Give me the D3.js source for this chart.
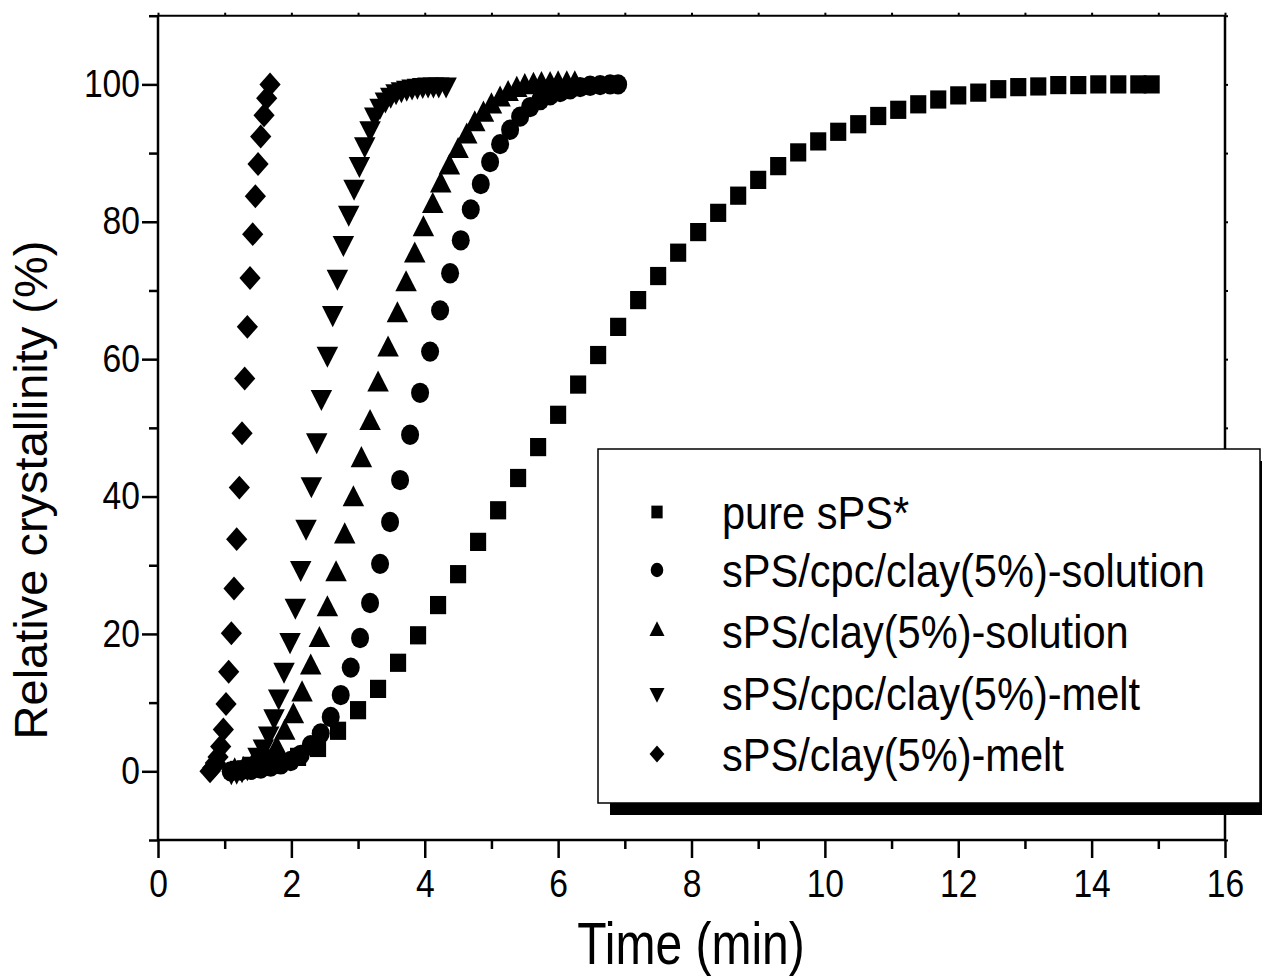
<!DOCTYPE html>
<html><head><meta charset="utf-8">
<script src="https://cdn.jsdelivr.net/npm/d3@7"></script>
<style>
body{margin:0;background:#fff}
svg text{font-family:"Liberation Sans",Arial,sans-serif;fill:#000}
</style>
</head><body>
<svg id="chart" width="1262" height="980"></svg>
<script>
// ---- data ----
const xMajorTicks = [0,2,4,6,8,10,12,14,16];
const xMinorTicks = [1,3,5,7,9,11,13,15];
const yMajorTicks = [0,20,40,60,80,100];
const yMinorTicks = [-10,10,30,50,70,90,110];

const seriesNames = ["pure sPS*","sPS/cpc/clay(5%)-solution","sPS/clay(5%)-solution","sPS/cpc/clay(5%)-melt","sPS/clay(5%)-melt"];

const tPure = [1.2,1.5,1.8,2.1,2.4,2.7,3.0,3.3,3.6,3.9,4.2,4.5,4.8,5.1,5.4,5.7,6.0,6.3,6.6,6.9,7.2,7.5,7.8,8.1,8.4,8.7,9.0,9.3,9.6,9.9,10.2,10.5,10.8,11.1,11.4,11.7,12.0,12.3,12.6,12.9,13.2,13.5,13.8,14.1,14.4,14.7,14.9];
const vPure = [0.2,0.6,1.2,2.1,3.4,5.9,8.9,12.0,15.8,19.8,24.2,28.7,33.4,38.0,42.7,47.2,51.9,56.3,60.6,64.7,68.6,72.1,75.5,78.5,81.3,83.8,86.1,88.1,90.1,91.7,93.1,94.2,95.4,96.3,97.1,97.8,98.4,98.8,99.3,99.6,99.7,99.9,99.9,100,100,100,100];

const tCpcSol = [1.09,1.24,1.39,1.54,1.69,1.84,1.99,2.14,2.29,2.44,2.59,2.74,2.89,3.03,3.18,3.33,3.48,3.63,3.78,3.93,4.08,4.23,4.38,4.54,4.69,4.84,4.98,5.13,5.28,5.43,5.58,5.73,5.88,6.03,6.18,6.33,6.48,6.63,6.78,6.90];
const vCpcSol = [0,0.1,0.2,0.4,0.7,1.0,1.5,2.4,3.8,5.5,7.9,11.1,15.1,19.4,24.5,30.2,36.3,42.4,49.0,55.1,61.1,67.1,72.5,77.3,81.8,85.5,88.7,91.3,93.4,95.3,96.7,97.7,98.4,98.9,99.3,99.6,99.8,99.9,100,100];

const tClaySol = [1.15,1.28,1.40,1.53,1.65,1.78,1.90,2.03,2.16,2.29,2.42,2.54,2.67,2.80,2.93,3.05,3.18,3.30,3.45,3.59,3.72,3.85,3.98,4.12,4.24,4.37,4.50,4.63,4.75,4.88,5.00,5.13,5.25,5.38,5.50,5.63,5.75,5.88,6.00,6.13,6.25];
const vClaySol = [0,0.2,0.4,0.8,1.6,3.2,5.6,8.0,11.2,15.1,19.1,23.6,28.7,34.2,39.6,45.3,50.7,56.3,61.4,66.4,70.9,75.1,78.9,82.3,85.3,87.9,90.3,92.4,94.2,95.6,96.8,97.8,98.6,99.2,99.6,99.8,99.9,99.9,100,100,100];

const tCpcMelt = [1.10,1.18,1.26,1.34,1.42,1.50,1.58,1.66,1.74,1.81,1.89,1.98,2.06,2.14,2.22,2.30,2.38,2.45,2.54,2.62,2.69,2.78,2.86,2.94,3.02,3.10,3.18,3.25,3.33,3.41,3.49,3.57,3.65,3.73,3.81,3.89,3.97,4.05,4.13,4.21,4.32];
const vCpcMelt = [0,0.1,0.3,0.6,1.1,2.4,3.6,5.5,8.0,10.9,14.8,19.1,24.1,29.6,35.6,41.8,48.2,54.5,60.8,66.7,72.0,76.9,81.3,85.1,88.4,91.3,93.6,95.6,96.9,97.8,98.5,99.0,99.3,99.5,99.7,99.8,99.9,100,100,100,100];

const tClayMelt = [0.78,0.82,0.86,0.90,0.94,0.98,1.02,1.06,1.10,1.14,1.18,1.22,1.26,1.30,1.34,1.38,1.42,1.46,1.50,1.54,1.59,1.63,1.68];
const vClayMelt = [0,0.5,1.2,2.1,3.6,6.1,9.8,14.5,20.1,26.6,33.8,41.3,49.2,57.2,64.7,71.8,78.2,83.7,88.4,92.4,95.5,98.0,100];

// ---- build ----
const series = [
  {name: seriesNames[0], t: tPure,    v: vPure,    shape: "square"},
  {name: seriesNames[1], t: tCpcSol,  v: vCpcSol,  shape: "circle"},
  {name: seriesNames[2], t: tClaySol, v: vClaySol, shape: "up"},
  {name: seriesNames[3], t: tCpcMelt, v: vCpcMelt, shape: "down"},
  {name: seriesNames[4], t: tClayMelt,v: vClayMelt,shape: "diamond"}
];

const svg = d3.select("#chart");
const X0 = 158, X1 = 1225, Y0 = 840, Y1 = 15.7;
const x = d3.scaleLinear().domain([0,16]).range([X0,X1]);
const y = d3.scaleLinear().domain([-10,110]).range([Y0,Y1]);
const SX = 0.885;   // horizontal squeeze of the original picture
const SY = 1 / SX;  // marker vertical stretch

function symbolPath(shape, k) {
  k = k || 1;
  switch (shape) {
    case "square":  return d3.symbol(d3.symbolSquare, 260*k*k)();
    case "circle":  return d3.symbol(d3.symbolCircle, 255*k*k)();
    case "up":      return d3.symbol(d3.symbolTriangle, 200*k*k)();
    case "down":    return d3.symbol(d3.symbolTriangle, 200*k*k)();
    case "diamond": return d3.symbol(d3.symbolSquare, 225*k*k)();
  }
}
function symbolTransform(shape, px, py) {
  let tr = `translate(${px},${py}) scale(1,${SY})`;
  if (shape === "down") tr += " rotate(180)";
  if (shape === "diamond") tr += " rotate(45)";
  return tr;
}

// frame
const frame = svg.append("g").attr("stroke","#000").attr("stroke-width",2.5).attr("fill","none");
frame.append("line").attr("x1",X0).attr("x2",X1).attr("y1",Y0).attr("y2",Y0);
frame.append("line").attr("x1",X0).attr("x2",X1).attr("y1",Y1).attr("y2",Y1).attr("stroke-width",2);
frame.append("line").attr("x1",X0).attr("x2",X0).attr("y1",Y1).attr("y2",Y0);
frame.append("line").attr("x1",X1).attr("x2",X1).attr("y1",Y1).attr("y2",Y0);

// bottom axis
const TICKFS = 38;
const gx = svg.append("g").attr("transform",`translate(0,${Y0})`);
gx.call(d3.axisBottom(x).tickValues(xMajorTicks).tickSize(18).tickPadding(12).tickFormat(d3.format("d")));
gx.append("g").call(d3.axisBottom(x).tickValues(xMinorTicks).tickSize(9).tickFormat(""));
gx.selectAll(".domain").remove();
gx.selectAll(".tick line").attr("stroke","#000").attr("stroke-width",2.5);
gx.selectAll(".tick text").attr("font-size",TICKFS).attr("font-family","Liberation Sans, Arial, sans-serif")
  .attr("transform",`scale(${SX},1)`);

// left axis
const gy = svg.append("g").attr("transform",`translate(${X0},0)`);
gy.call(d3.axisLeft(y).tickValues(yMajorTicks).tickSize(16).tickPadding(6).tickFormat(d3.format("d")));
gy.append("g").call(d3.axisLeft(y).tickValues(yMinorTicks).tickSize(9).tickFormat(""));
gy.selectAll(".domain").remove();
gy.selectAll(".tick line").attr("stroke","#000").attr("stroke-width",2.5);
gy.selectAll(".tick text").attr("font-size",TICKFS).attr("font-family","Liberation Sans, Arial, sans-serif")
  .attr("x", -18/SX).attr("transform",`scale(${SX},1)`);

// top / right tiny ticks
const gt = svg.append("g").attr("transform",`translate(0,${Y1})`);
gt.call(d3.axisTop(x).tickValues(xMajorTicks.concat(xMinorTicks)).tickSize(3).tickFormat(""));
gt.selectAll(".domain").remove();
gt.selectAll(".tick line").attr("stroke","#000").attr("stroke-width",2);
const gr = svg.append("g").attr("transform",`translate(${X1},0)`);
gr.call(d3.axisRight(y).tickValues(yMajorTicks.concat(yMinorTicks)).tickSize(3).tickFormat(""));
gr.selectAll(".domain").remove();
gr.selectAll(".tick line").attr("stroke","#000").attr("stroke-width",2);

// axis titles
const TSX = 0.8;
svg.append("text").attr("x",691/TSX).attr("y",964).attr("text-anchor","middle")
  .attr("font-size",60).attr("transform",`scale(${TSX},1)`).text("Time (min)");
svg.append("text").attr("text-anchor","middle").attr("font-size",47)
  .attr("transform",`translate(47,490) rotate(-90)`).text("Relative crystallinity (%)");

// data markers
const gData = svg.append("g");
series.forEach(s => {
  const pts = s.t.map((t,i) => [t, s.v[i]]);
  gData.append("g").selectAll("path").data(pts).join("path")
    .attr("d", symbolPath(s.shape))
    .attr("transform", d => symbolTransform(s.shape, x(d[0]), y(d[1])))
    .attr("fill","#000");
});

// legend
const LX = 598, LY = 449, LW = 662, LH = 354;
const leg = svg.append("g");
leg.append("rect").attr("x",LX+12).attr("y",LY+12).attr("width",LW).attr("height",LH).attr("fill","#000");
leg.append("rect").attr("x",LX).attr("y",LY).attr("width",LW).attr("height",LH)
  .attr("fill","#fff").attr("stroke","#000").attr("stroke-width",1.5);
const rowY = [512, 570, 631, 693, 754];
series.forEach((s,i) => {
  leg.append("path").attr("d", symbolPath(s.shape, 0.7))
    .attr("transform", symbolTransform(s.shape, 657, rowY[i])).attr("fill","#000");
  leg.append("text").attr("x", 722/SX).attr("y", rowY[i]).attr("dy","0.36em")
    .attr("font-size",47).attr("transform",`scale(${SX},1)`).text(s.name);
});
</script>
</body></html>
